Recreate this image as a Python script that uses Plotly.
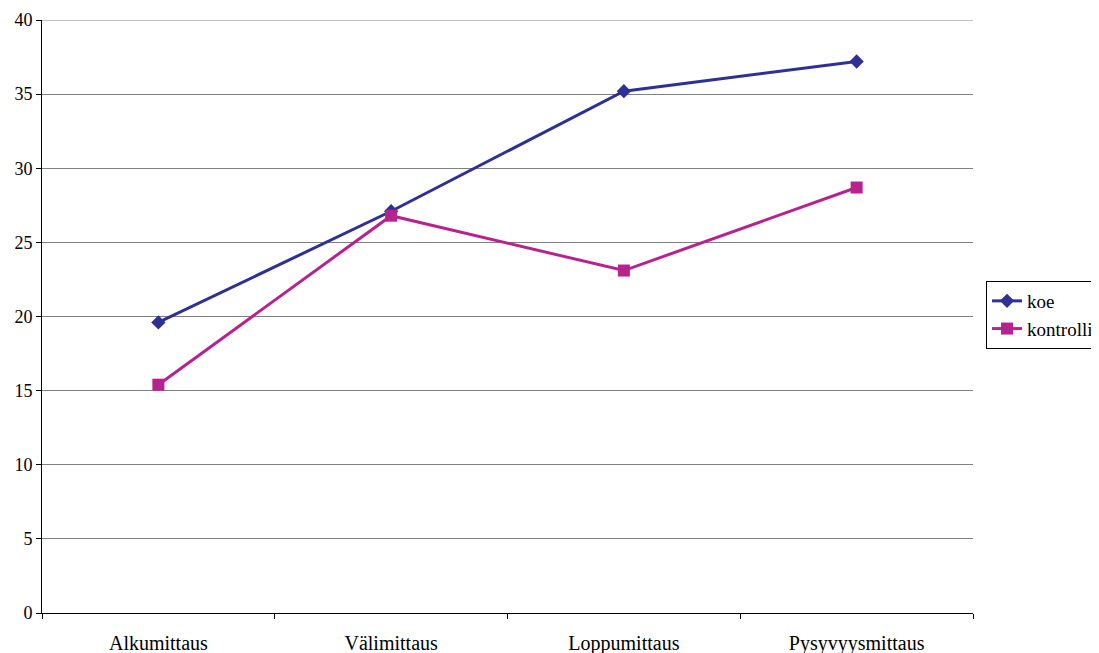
import plotly.graph_objects as go

categories = ["Alkumittaus", "Välimittaus", "Loppumittaus", "Pysyvyysmittaus"]
koe = [19.6, 27.1, 35.2, 37.2]
kontrolli = [15.4, 26.8, 23.1, 28.7]

fig = go.Figure()
fig.add_trace(go.Scatter(
    x=categories, y=koe, name="koe", mode="lines+markers",
    line=dict(color="#2E3192", width=3),
    marker=dict(symbol="diamond", size=11, color="#2E3192"),
))
fig.add_trace(go.Scatter(
    x=categories, y=kontrolli, name="kontrolli", mode="lines+markers",
    line=dict(color="#B8228E", width=3),
    marker=dict(symbol="square", size=12, color="#B8228E"),
))

fam = "Liberation Serif"
font = dict(family=fam, size=18, color="#000000")
xfont = dict(family=fam, size=20, color="#000000")

fig.update_layout(
    width=1099, height=653,
    margin=dict(l=34, r=134, t=12, b=48, autoexpand=False),
    paper_bgcolor="white", plot_bgcolor="white",
    font=font,
    showlegend=True,
    legend=dict(
        x=1.014, y=0.5025, xanchor="left", yanchor="middle",
        bordercolor="#000000", borderwidth=1,
        font=dict(family=fam, size=19),
        itemwidth=30, tracegroupgap=0,
    ),
    xaxis=dict(
        type="category", range=[-0.5, 3.5],
        showline=True, linecolor="#000000", linewidth=1,
        ticks="outside", tickson="boundaries", ticklen=5, tickcolor="#000000",
        showgrid=False, zeroline=False, automargin=False,
        tickfont=xfont, mirror=False, ticklabelstandoff=12,
    ),
    yaxis=dict(
        range=[0, 40], dtick=5,
        showline=True, linecolor="#000000", linewidth=1,
        ticks="outside", ticklen=5, tickcolor="#000000",
        showgrid=True, gridcolor="#808080", gridwidth=1,
        zeroline=False, tickfont=font, automargin=False,
    ),
)
fig.add_shape(type="line", xref="paper", yref="y", x0=0, x1=1, y0=40, y1=40,
              line=dict(color="#808080", width=1))

fig.write_html("out.html")
